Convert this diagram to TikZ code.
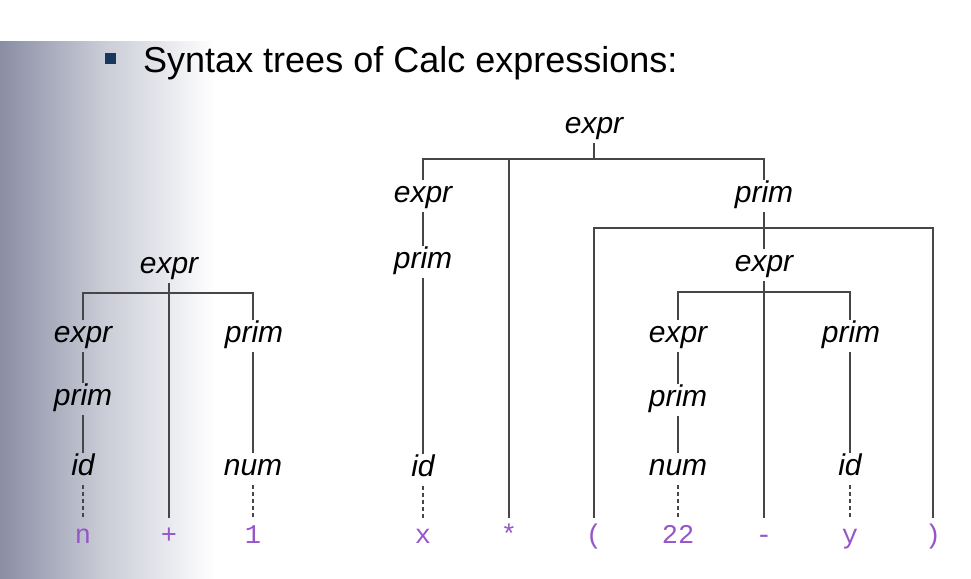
\documentclass[tikz,border=0pt]{standalone}
\usepackage{fontspec}
\setmainfont{Liberation Sans}
\newfontfamily\tokfont{Liberation Mono}
\definecolor{tokpurple}{RGB}{150,85,200}
\definecolor{linegray}{RGB}{70,70,70}
\definecolor{bgL}{RGB}{138,142,164}
\definecolor{bgM}{RGB}{200,202,213}
\definecolor{bulletblue}{RGB}{23,55,94}
\begin{document}
\begin{tikzpicture}[x=1pt,y=-1pt,
  lab/.style={inner sep=0pt, anchor=base, text height=22pt, text depth=10pt, font=\fontsize{30}{36}\selectfont\itshape},
  tok/.style={inner sep=0pt, anchor=base, text height=25pt, text depth=0pt, text=tokpurple, font=\tokfont\fontsize{27}{32}\selectfont},
  edge/.style={draw=linegray, line width=1.4pt},
  dedge/.style={edge, dash pattern=on 4pt off 3pt}]
\useasboundingbox (0,0) rectangle (971,578);
\fill[white] (0,0) rectangle (971,578);
\shade[left color=bgL, right color=bgM] (0,42) rectangle (100.5,578);
\shade[left color=bgM, right color=white] (100,42) rectangle (215,578);
% title
\fill[bulletblue] (105,53) rectangle (116,64);
\node[anchor=base west, inner sep=0pt, font=\fontsize{36}{43}\selectfont] (title) at (143,72) {Syntax trees of Calc expressions:};
% left tree
\node[lab] (L0) at (169,273) {expr};
\node[lab] (L1) at (83,342) {expr};
\node[lab] (L2) at (83,405) {prim};
\node[lab] (L3) at (83,475) {id};
\node[tok] (Ln) at (83,543) {n};
\node[tok] (Lplus) at (169,543) {+};
\node[lab] (L4) at (254,342) {prim};
\node[lab] (L5) at (253,475) {num};
\node[tok] (Lone) at (253,543) {1};
\coordinate (lb) at (169,293);
\draw[edge] (L0.south) -- (Lplus.north);
\draw[edge] (L1.north) |- (lb) -| (L5.north |- L4.north);
\draw[edge] (L1.south) -- (L2.north);
\draw[edge] (L2.south) -- (L3.north);
\draw[dedge] (L3.south) -- (Ln.north);
\draw[edge] (L5.north |- L4.south) -- (L5.north);
\draw[dedge] (L5.south) -- (Lone.north);
% right tree
\node[lab] (R0) at (594,133) {expr};
\node[lab] (R1) at (423,202) {expr};
\node[lab] (R2) at (423,268) {prim};
\node[lab] (R3) at (423,476) {id};
\node[tok] (Rx) at (423,543) {x};
\node[tok] (Rstar) at (509,543) {*};
\node[lab] (R4) at (764,202) {prim};
\node[tok] (Rlp) at (594,543) {(};
\node[tok] (Rrp) at (933,543) {)};
\node[lab] (R5) at (764,271) {expr};
\node[lab] (R6) at (678,342) {expr};
\node[lab] (R7) at (678,406) {prim};
\node[lab] (R8) at (678,475) {num};
\node[tok] (R22) at (678,543) {22};
\node[tok] (Rminus) at (764,543) {-};
\node[lab] (R9) at (851,342) {prim};
\node[lab] (R10) at (850,475) {id};
\node[tok] (Ry) at (850,543) {y};
\coordinate (rb1) at (594,159);
\coordinate (rb2) at (764,228);
\coordinate (rb3) at (764,292);
\draw[edge] (R0.south) -- (rb1);
\draw[edge] (R1.north) |- (rb1) -| (R4.north);
\draw[edge] (Rstar.north) -- (Rstar.north |- rb1);
\draw[edge] (R1.south) -- (R2.north);
\draw[edge] (R2.south) -- (R3.north);
\draw[dedge] (R3.south) -- (Rx.north);
\draw[edge] (R4.south) -- (R5.north);
\draw[edge] (Rlp.north) |- (rb2) -| (Rrp.north);
\draw[edge] (R5.south) -- (Rminus.north);
\draw[edge] (R6.north) |- (rb3) -| (R10.north |- R9.north);
\draw[edge] (R6.south) -- (R7.north);
\draw[edge] (R7.south) -- (R8.north);
\draw[dedge] (R8.south) -- (R22.north);
\draw[edge] (R10.north |- R9.south) -- (R10.north);
\draw[dedge] (R10.south) -- (Ry.north);
\end{tikzpicture}
\end{document}
